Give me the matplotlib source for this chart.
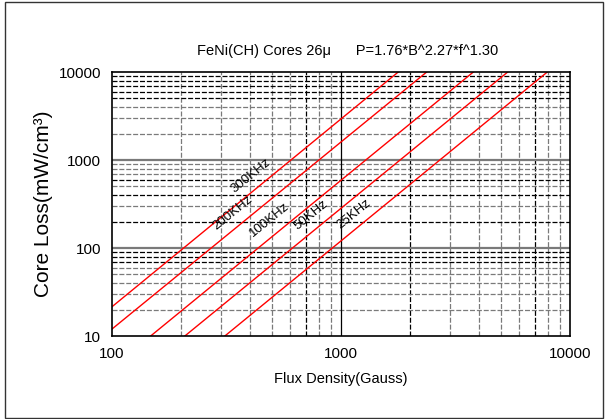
import matplotlib
matplotlib.use('Agg')
import matplotlib.pyplot as plt
import numpy as np
from matplotlib.patches import Rectangle

plt.rcParams['font.family'] = ['Liberation Sans', 'DejaVu Sans']

# end points of each loss line (Gauss, mW/cm3)
freqs = ['300KHz', '200KHz', '100KHz', '50KHz', '25KHz']
b_start = [100, 100, 147.5, 208, 311]
p_start = [21.5, 12.0, 10, 10, 10]
b_end = [1778, 2367, 3784, 5346, 7962]
p_end = [10000, 10000, 10000, 10000, 10000]

x_ticks = [100, 1000, 10000]
y_ticks = [10, 100, 1000, 10000]

# label spots along the lines
label_x = [405, 338, 486, 740, 1140]
label_y = [665, 252, 210, 234, 240]

fig = plt.figure(figsize=(6.05, 4.19), dpi=100)
ax = fig.add_axes([112/605, 1-336/419, (570-112)/605, (336-72)/419])
ax.set_xscale('log')
ax.set_yscale('log')
ax.set_xlim(100, 10000)
ax.set_ylim(10, 10000)

gray = '#7a7a7a'
dash = (0, (4, 1.5))
# minor grid, some lines black, most gray
black_x = [700, 2000, 7000]
for dec in [100, 1000]:
    for m in range(2, 10):
        v = m * dec
        c = 'black' if v in black_x else gray
        ax.axvline(v, color=c, lw=0.9, ls=dash, zorder=1)
black_y = [70, 80, 90, 200, 400, 600, 5000, 6000, 7000, 8000, 9000]
for dec in [10, 100, 1000]:
    for m in range(2, 10):
        v = m * dec
        c = 'black' if v in black_y else gray
        ax.axhline(v, color=c, lw=0.9, ls=dash, zorder=1)
ax.axhline(100, color=gray, lw=1.6, zorder=1)
ax.axhline(1000, color=gray, lw=1.6, zorder=1)
ax.axvline(1000, color='black', lw=0.9, zorder=1)

for i in range(len(freqs)):
    ax.plot([b_start[i], b_end[i]], [p_start[i], p_end[i]], color='#ff0000', lw=1.0, zorder=3)
    ax.text(label_x[i], label_y[i], freqs[i], rotation=39, fontsize=9.5,
            ha='center', va='center', rotation_mode='anchor', zorder=4)

ax.set_xticks(x_ticks)
ax.set_xticklabels([str(v) for v in x_ticks], fontsize=11)
ax.set_yticks(y_ticks)
ax.set_yticklabels([str(v) for v in y_ticks], fontsize=11)
ax.minorticks_off()
ax.tick_params(length=0, pad=8)
for s in ax.spines.values():
    s.set_linewidth(1.2)
    s.set_zorder(5)

ax.set_xlabel('Flux Density(Gauss)', fontsize=10.5, labelpad=8)
ax.set_ylabel('Core Loss(mW/cm³)', fontsize=15, labelpad=4)
fig.text(348/605, 1-51/419, 'FeNi(CH) Cores 26μ      P=1.76*B^2.27*f^1.30',
         fontsize=10.5, ha='center', va='center')

fig.patches.append(Rectangle((5/605, 1/419), 598/605, 416/419, transform=fig.transFigure,
                             fill=False, edgecolor='#333333', lw=1.0))

fig.savefig('out.png', dpi=100)
